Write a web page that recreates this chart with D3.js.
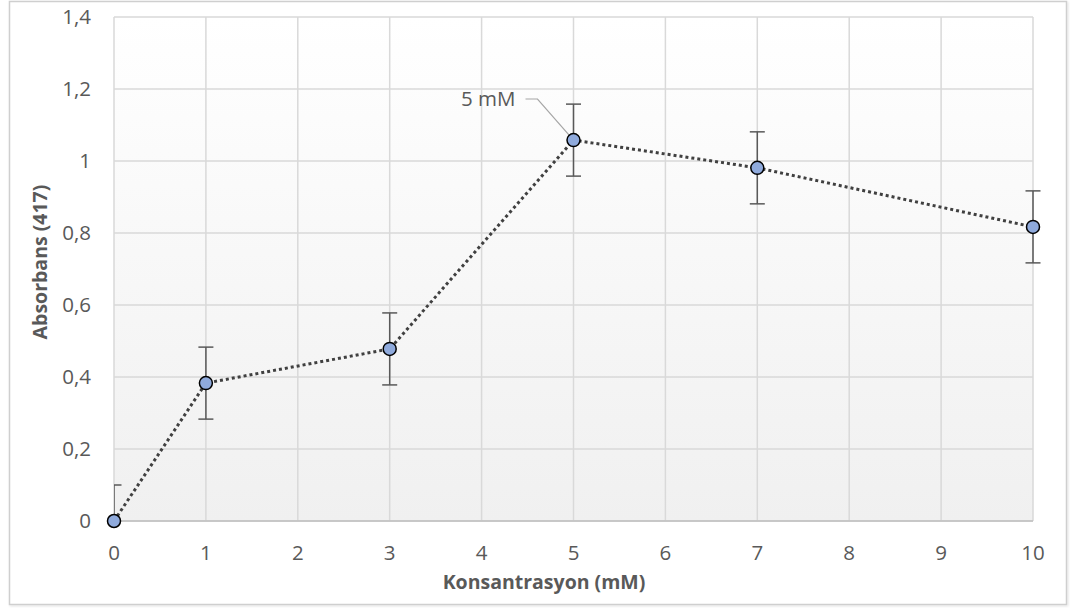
<!DOCTYPE html>
<html>
<head>
<meta charset="utf-8">
<script src="https://cdn.jsdelivr.net/npm/d3@7"></script>
<style>
  body { margin: 0; background: #fff; }
  text { font-family: "Open Sans", "Noto Sans", sans-serif; }
</style>
</head>
<body>
<svg id="chart" width="1070" height="608"></svg>
<script>
// Data
const concentrations = [0, 1, 3, 5, 7, 10];
const absorbance = [0, 0.383, 0.478, 1.058, 0.981, 0.817];
const errors = [0.1, 0.1, 0.1, 0.1, 0.1, 0.1];
const xTicks = [0, 1, 2, 3, 4, 5, 6, 7, 8, 9, 10];
const yTicks = [0, 0.2, 0.4, 0.6, 0.8, 1, 1.2, 1.4];
const annotation = { index: 3, text: "5 mM" };

const svg = d3.select("#chart");
const margin = { left: 114, right: 1033, top: 17, bottom: 521 };

const x = d3.scaleLinear().domain([0, 10]).range([margin.left, margin.right]);
const y = d3.scaleLinear().domain([0, 1.4]).range([margin.bottom, margin.top]);
const fmt = (v) => String(+v.toFixed(1)).replace(".", ",");

// Outer frame with soft shadow
const defs = svg.append("defs");
const shadow = defs.append("filter").attr("id", "shadow")
  .attr("x", "-5%").attr("y", "-5%").attr("width", "110%").attr("height", "110%");
shadow.append("feDropShadow").attr("dx", 1).attr("dy", 1).attr("stdDeviation", 1.2)
  .attr("flood-color", "#000").attr("flood-opacity", 0.12);

svg.append("rect")
  .attr("x", 9.5).attr("y", 1.5).attr("width", 1057).attr("height", 603)
  .attr("fill", "#fff").attr("stroke", "#cfcfcf").attr("stroke-width", 1.5)
  .attr("filter", "url(#shadow)");

// Plot background gradient
const grad = defs.append("linearGradient").attr("id", "plotBg")
  .attr("x1", 0).attr("y1", 0).attr("x2", 0).attr("y2", 1);
grad.append("stop").attr("offset", "0%").attr("stop-color", "#ffffff");
grad.append("stop").attr("offset", "100%").attr("stop-color", "#f0f0f0");

// Error bars get cut at the left edge and the baseline, like the source
defs.append("clipPath").attr("id", "errClip").append("rect")
  .attr("x", margin.left).attr("y", 0)
  .attr("width", margin.right - margin.left + 20).attr("height", margin.bottom);

svg.append("rect")
  .attr("x", margin.left).attr("y", margin.top)
  .attr("width", margin.right - margin.left).attr("height", margin.bottom - margin.top)
  .attr("fill", "url(#plotBg)");

// Gridlines
svg.append("g").selectAll("line")
  .data(yTicks)
  .join("line")
  .attr("x1", margin.left).attr("x2", margin.right)
  .attr("y1", (d) => y(d)).attr("y2", (d) => y(d))
  .attr("stroke", "#d9d9d9").attr("stroke-width", 1.5);

svg.append("g").selectAll("line")
  .data(xTicks)
  .join("line")
  .attr("x1", (d) => x(d)).attr("x2", (d) => x(d))
  .attr("y1", margin.top).attr("y2", margin.bottom)
  .attr("stroke", "#d9d9d9").attr("stroke-width", 1.5);

// Bottom axis line
svg.append("line")
  .attr("x1", margin.left).attr("x2", margin.right)
  .attr("y1", y(0)).attr("y2", y(0))
  .attr("stroke", "#bfbfbf").attr("stroke-width", 1.5);

// Tick labels
svg.append("g").selectAll("text")
  .data(yTicks)
  .join("text")
  .attr("x", 91).attr("y", (d) => y(d))
  .attr("dy", "0.35em").attr("text-anchor", "end")
  .attr("font-size", 20.5).attr("fill", "#595959")
  .text(fmt);

svg.append("g").selectAll("text")
  .data(xTicks)
  .join("text")
  .attr("x", (d) => x(d)).attr("y", 553)
  .attr("dy", "0.35em").attr("text-anchor", "middle")
  .attr("font-size", 20.5).attr("fill", "#595959")
  .text((d) => d);

// Axis titles
svg.append("text")
  .attr("x", 544).attr("y", 582)
  .attr("dy", "0.35em").attr("text-anchor", "middle")
  .attr("font-size", 19.5).attr("font-weight", "bold").attr("fill", "#595959")
  .text("Konsantrasyon (mM)");

svg.append("text")
  .attr("transform", "translate(40,262) rotate(-90)")
  .attr("dy", "0.35em").attr("text-anchor", "middle")
  .attr("font-size", 19.5).attr("font-weight", "bold").attr("fill", "#595959")
  .text("Absorbans (417)");

const points = concentrations.map((c, i) => ({ c, v: absorbance[i], e: errors[i] }));

// Error bars
const errG = svg.append("g").attr("clip-path", "url(#errClip)")
  .attr("stroke", "#595959").attr("stroke-width", 1.5);
const capHalf = 7.5;
points.forEach((p) => {
  const px = x(p.c);
  errG.append("line").attr("x1", px).attr("x2", px)
    .attr("y1", y(p.v + p.e)).attr("y2", y(p.v - p.e));
  [p.v + p.e, p.v - p.e].forEach((v) => {
    errG.append("line").attr("x1", px - capHalf).attr("x2", px + capHalf)
      .attr("y1", y(v)).attr("y2", y(v));
  });
});

// Dotted series line
const line = d3.line().x((d) => x(d.c)).y((d) => y(d.v));
svg.append("path")
  .datum(points)
  .attr("d", line)
  .attr("fill", "none")
  .attr("stroke", "#404040")
  .attr("stroke-width", 3)
  .attr("stroke-dasharray", "3,3");

// Annotation leader + label
const ap = points[annotation.index];
const ax = x(ap.c), ay = y(ap.v);
svg.append("polyline")
  .attr("points", `${ax - 48},99 ${ax - 36},99 ${ax},${ay}`)
  .attr("fill", "none").attr("stroke", "#a6a6a6").attr("stroke-width", 1.2);
svg.append("text")
  .attr("x", ax - 58).attr("y", 99)
  .attr("dy", "0.35em").attr("text-anchor", "end")
  .attr("font-size", 20.5).attr("fill", "#595959")
  .text(annotation.text);

// Markers
svg.append("g").selectAll("circle")
  .data(points)
  .join("circle")
  .attr("cx", (d) => x(d.c)).attr("cy", (d) => y(d.v))
  .attr("r", 6.5)
  .attr("fill", "#8faadc")
  .attr("stroke", "#000")
  .attr("stroke-width", 1.5);
</script>
</body>
</html>
